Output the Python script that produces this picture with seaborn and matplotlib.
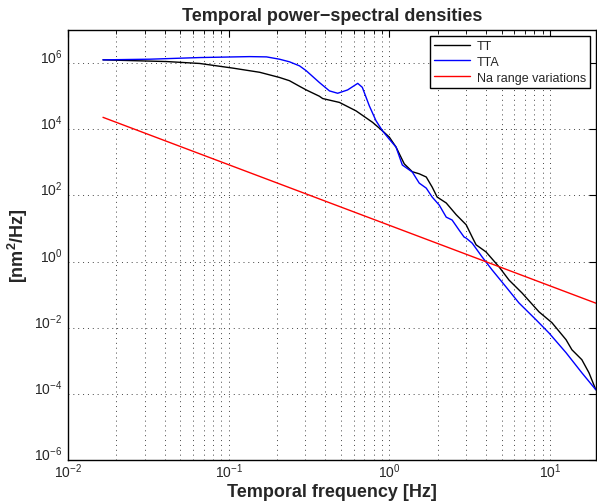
import numpy as np
import pandas as pd
import matplotlib
matplotlib.use('Agg')
import matplotlib.pyplot as plt
import matplotlib.ticker as mticker
import seaborn as sns

# values
f_tt = [0.0165, 0.0412, 0.066, 0.106, 0.156, 0.207, 0.239, 0.276, 0.304, 0.367,
        0.385, 0.489, 0.621, 0.787, 0.908, 1.0, 1.101, 1.239, 1.39, 1.536,
        1.698, 1.849, 1.986, 2.261, 2.61, 3.01, 3.28, 3.47, 4.0, 4.82,
        5.56, 6.70, 8.55, 10.29, 12.6, 13.7, 15.8, 17.5, 19.3]
psd_tt = [1.26e6, 1.12e6, 9.8e5, 7.1e5, 5.3e5, 3.7e5, 2.95e5, 2.0e5, 1.55e5, 1.0e5,
          8.5e4, 6.5e4, 3.6e4, 1.62e4, 8.9e3, 5.8e3, 2.9e3, 900, 520, 450,
          360, 178, 89, 59, 26, 12.9, 5.5, 3.2, 1.95, 0.69,
          0.275, 0.112, 0.030, 0.0141, 0.0043, 0.00214, 0.00107, 4.3e-4, 1.32e-4]

f_tta = [0.0165, 0.0323, 0.066, 0.135, 0.172, 0.207, 0.239, 0.276, 0.304, 0.367,
         0.424, 0.477, 0.550, 0.636, 0.679, 0.751, 0.826, 0.908, 1.0, 1.101,
         1.205, 1.39, 1.536, 1.698, 1.849, 2.045, 2.261, 2.46, 2.72, 2.92,
         3.01, 3.28, 3.78, 4.36, 5.33, 6.41, 8.18, 9.86, 12.6, 15.8, 19.3]
psd_tta = [1.26e6, 1.32e6, 1.48e6, 1.58e6, 1.55e6, 1.32e6, 1.1e6, 8.3e5, 5.9e5, 2.6e5,
           1.45e5, 1.23e5, 1.55e5, 2.45e5, 1.86e5, 5.1e4, 1.82e4, 8.9e3, 5.0e3, 2.9e3,
           830, 510, 235, 166, 89, 51, 22, 18, 8.9, 5.5,
           5.1, 3.6, 1.38, 0.56, 0.17, 0.056, 0.0174, 0.0069, 0.00174, 4.3e-4, 1.32e-4]

f_na = [0.0165, 19.3]
psd_na = [2.3e4, 0.055]

series = ['TT', 'TTA', 'Na range variations']
colors = ['black', '#0000ff', '#ff0000']

df = pd.concat([
    pd.DataFrame({'f': f_tt, 'psd': psd_tt, 'series': series[0]}),
    pd.DataFrame({'f': f_tta, 'psd': psd_tta, 'series': series[1]}),
    pd.DataFrame({'f': f_na, 'psd': psd_na, 'series': series[2]}),
])

sns.set_style('white')
plt.rcParams['font.family'] = ['Liberation Sans', 'DejaVu Sans']
plt.rcParams['mathtext.fontset'] = 'custom'
plt.rcParams['mathtext.rm'] = 'Liberation Sans'
plt.rcParams['mathtext.it'] = 'Liberation Sans:italic'
plt.rcParams['mathtext.bf'] = 'Liberation Sans:bold'

fig = plt.figure(figsize=(5.97, 5.02), dpi=100)
ax = fig.add_axes([0.114, 0.082, 0.884, 0.856])

sns.lineplot(data=df, x='f', y='psd', hue='series', hue_order=series,
             palette=dict(zip(series, colors)), estimator=None, sort=False,
             linewidth=1.0, ax=ax)

ax.set_xscale('log')
ax.set_yscale('log')
ax.set_xlim(1e-2, 19.3)
ax.set_ylim(1e-6, 1e7)

ax.yaxis.set_major_locator(mticker.FixedLocator([1e-6, 1e-4, 1e-2, 1e0, 1e2, 1e4, 1e6]))
ax.yaxis.set_minor_locator(mticker.NullLocator())
ax.xaxis.set_major_locator(mticker.LogLocator(base=10))
ax.xaxis.set_minor_locator(mticker.LogLocator(base=10, subs=np.arange(2, 10)))
ax.xaxis.set_minor_formatter(mticker.NullFormatter())

grid_kw = dict(linestyle=(0, (1, 4)), color='#444444', linewidth=0.7)
ax.grid(True, which='major', axis='both', **grid_kw)
ax.grid(True, which='minor', axis='x', **grid_kw)

ax.tick_params(which='both', direction='in', top=True, right=True, labelsize=10, color='black')
ax.tick_params(which='major', length=5)
ax.tick_params(which='minor', length=3)
ax.tick_params(axis='x', pad=1)
ax.tick_params(axis='y', pad=4)
for s in ax.spines.values():
    s.set_color('black')
    s.set_linewidth(1.0)

ax.set_title('Temporal power\u2212spectral densities', fontsize=13, fontweight='bold', pad=7)
ax.set_xlabel('Temporal frequency [Hz]', fontsize=13, fontweight='bold', labelpad=2)
ax.set_ylabel('[nm$\\mathbf{^2}$/Hz]', fontsize=13, fontweight='bold', labelpad=3)

handles, labels = ax.get_legend_handles_labels()
leg = ax.legend(handles, labels, loc='upper right', fontsize=9, frameon=True,
                fancybox=False, edgecolor='black', framealpha=1, borderpad=0.35,
                labelspacing=0.3, handlelength=2.9, handletextpad=0.5,
                borderaxespad=0.45)
leg.get_frame().set_linewidth(1.0)

for lbl in ax.get_yticklabels():
    lbl.set_verticalalignment('baseline')

fig.savefig('out.png', dpi=100)
